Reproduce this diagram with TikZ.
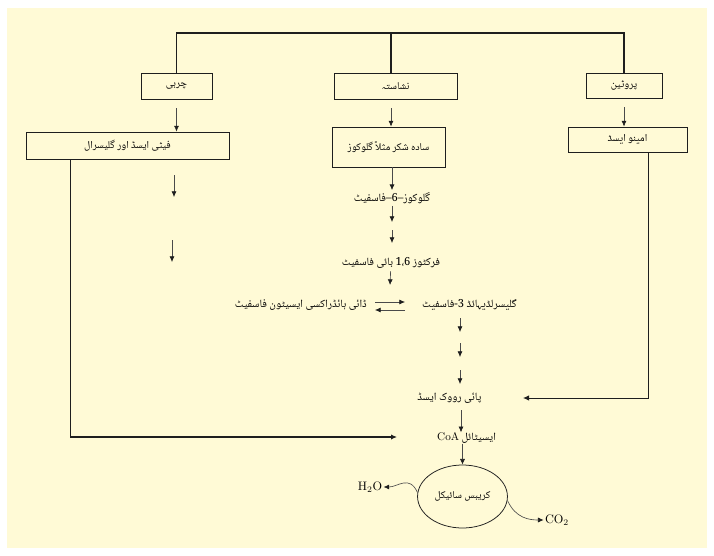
\documentclass[tikz,border=0pt]{standalone}
\usepackage{fontspec}
\usetikzlibrary{arrows.meta,calc,positioning,shapes.geometric}
\newfontfamily\urdufont[Script=Arabic]{Noto Naskh Arabic}
\TeXXeTstate=1
\definecolor{paper}{HTML}{FFFAD6}
\definecolor{ink}{HTML}{1E1E1E}
\definecolor{stem}{HTML}{4A4A4A}
\newcommand{\ur}[1]{{\urdufont\beginR #1\endR}}

\begin{document}
\begin{tikzpicture}[x=0.03cm,y=-0.03cm,
          box/.style={draw=ink, line width=0.75pt, fill=paper, minimum height=0.78cm, inner sep=2pt, align=center, font=\fontsize{9}{10}\selectfont},
          chem/.style={inner sep=0pt, font=\fontsize{9.5}{10}\selectfont},
          arrow/.style={-{Latex[length=1.7mm,width=1.5mm,color=ink]}, line width=0.55pt, draw=stem},
          gap/.style={shorten <=0.27cm},
          bus/.style={line width=1.3pt, draw=ink},
          feed/.style={-{Latex[length=1.8mm,width=1.6mm]}, draw=ink}
        ]
          \useasboundingbox (0,0) rectangle (714,556);
          \fill[paper] (7,8) rectangle (707,548);
          % three food groups
          \node[box, minimum width=2.13cm] (fat) at (176.5,86) {\ur{چربی}};
          \node[box, minimum width=3.69cm] (starch) at (395.5,86) {\ur{نشاستہ}};
          \node[box, minimum width=2.28cm, minimum height=0.75cm] (protein) at (624,85.5) {\ur{پروٹین}};
          \coordinate (bus) at (391,33);
          \draw[bus] (fat.north) |- (bus) -| (protein.north);
          \draw[bus] (starch.north -| bus) -- (bus);
          % second row
          \node[box, minimum width=6.09cm, minimum height=0.81cm] (fatty) at (127.5,145.5) {\ur{فیٹی ایسڈ اور گلیسرال}};
          \node[box, minimum width=3.39cm, minimum height=1.2cm] (glucose) at (388.5,147) {\ur{سادہ شکر مثلاً گلوکوز}};
          \node[box, minimum width=3.57cm, minimum height=0.75cm] (amino) at (627.5,139.5) {\ur{امینو ایسڈ}};
          \draw[arrow, gap] (fat.south) -- (fatty.north -| fat.south);
          \draw[arrow, gap] (starch.south -| bus) -- (glucose.north -| bus);
          \draw[arrow, gap] (protein.south) -- (amino.north -| protein.south);
          \coordinate (fa1) at (174,175);
          \coordinate (fa2) at (172,240);
          \draw[arrow] (fa1) -- ++(0,22);
          \draw[arrow] (fa2) -- ++(0,22);
          % glycolysis
          \node[chem] (g6p) at (392,198) {\ur{گلوکوز–6–فاسفیٹ}};
          \node[chem] (f16bp) at (391,263) {\ur{فرکٹوز 1،6 بائی فاسفیٹ}};
          \coordinate (s1) at (392,222);
          \coordinate (s2) at (392,230);
          \coordinate (s3) at (390,285);
          \draw[arrow] (glucose.south -| g6p) -- ([yshift=2pt]g6p.north);
          \draw[arrow, shorten <=2pt] (g6p) -- (s1);
          \draw[arrow] (s2) -- ++(0,13);
          \draw[arrow, shorten <=2pt] (f16bp) -- (s3);
          \node[chem, anchor=west] (gap3p) at (422,305) {\ur{گلیسرلڈیہائڈ 3-فاسفیٹ}};
          \node[chem, anchor=east] (dhap) at (367,305) {\ur{ڈائی ہائڈراکسی ایسیٹون فاسفیٹ}};
          \draw[arrow, shorten <=0.24cm, shorten >=0.51cm] ($(dhap.east)+(0,-3)$) -- ($(gap3p.west)+(0,-3)$);
          \draw[arrow, shorten <=0.51cm, shorten >=0.24cm] ($(gap3p.west)+(0,5)$) -- ($(dhap.east)+(0,5)$);
          \foreach \i/\y in {1/318,2/343,3/370}
            \coordinate (g\i) at (460,\y);
          \foreach \i in {1,2,3}
            \draw[arrow] (g\i) -- ++(0,14);
          \node[chem] (pyr) at (449.5,398) {\ur{پائی رووک ایسڈ}};
          \node[chem, anchor=west] (acetyl) at (437,438) {\ur{ایسیٹائل {\rmfamily\fontsize{9.5}{11}\selectfont CoA}}};
          \coordinate (a1) at (461,410);
          \draw[arrow] (a1) -- (acetyl.north -| a1);
          % side feeds
          \coordinate (pyrR) at (523,398);
          \coordinate (coaL) at (397,437);
          \draw[feed, line width=0.8pt] ($(amino.south)+(20.5,0)$) |- (pyrR);
          \draw[feed, line width=1.1pt] ($(fatty.south west)+(45,0)$) |- (coaL);
          % krebs cycle
          \node[ellipse, draw=ink, line width=0.65pt, minimum width=2.31cm, minimum height=1.89cm, font=\fontsize{9}{10}\selectfont] (krebs) at (462.5,496.5) {\ur{کریبس سائیکل}};
          \node[font=\fontsize{10.5}{12}\selectfont, inner sep=1pt] (water) at (370,487) {H\textsubscript{2}O};
          \node[font=\fontsize{10.5}{12}\selectfont, inner sep=1pt] (co2) at (557,520) {CO\textsubscript{2}};
          \draw[arrow] (krebs.north |- acetyl.south) -- (krebs.north);
          \draw[arrow] (krebs.175) .. controls +(-8,-18) and +(14,0) .. (water.east);
          \draw[arrow] (krebs.-5) .. controls +(8,18) and +(-14,0) .. (co2.west);
        \end{tikzpicture}
\end{document}
